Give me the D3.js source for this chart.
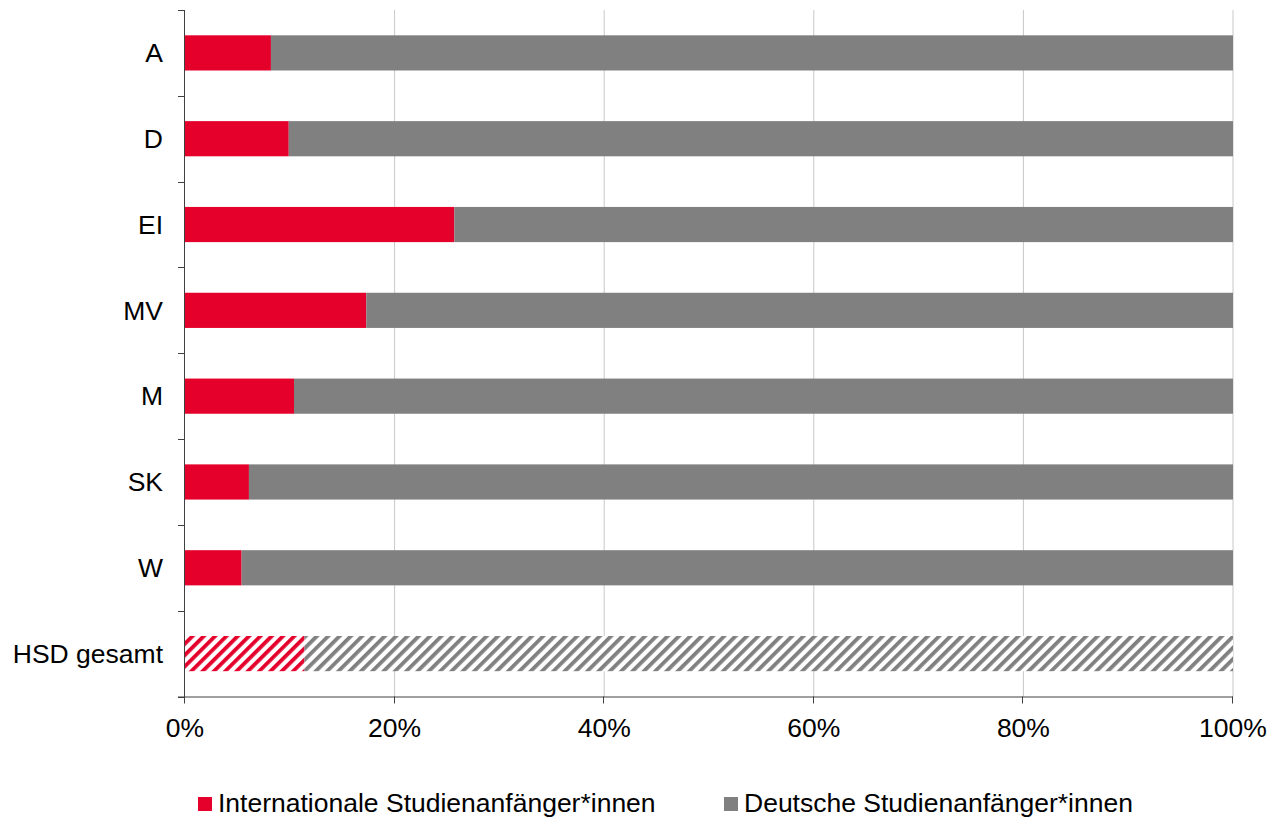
<!DOCTYPE html>
<html><head><meta charset="utf-8">
<script src="https://cdn.jsdelivr.net/npm/d3@7"></script>
<style>body{margin:0;background:#fff;} svg{display:block;font-family:"Liberation Sans",Arial,sans-serif;}</style>
</head><body>
<svg id="c" width="1283" height="821"></svg>
<script>
const categories = ["A","D","EI","MV","M","SK","W","HSD gesamt"];
const international = [8.2, 9.9, 25.7, 17.3, 10.4, 6.1, 5.4, 11.4];
const deutsche = international.map(v => 100 - v);
const xTicks = [0,20,40,60,80,100];
const seriesNames = ["Internationale Studienanfänger*innen","Deutsche Studienanfänger*innen"];
const colors = ["#e4002b","#808080"];

const svg = d3.select("#c");
const m = {left:185, right:1233, top:10, bottom:696.5};
const x = d3.scaleLinear().domain([0,100]).range([m.left, m.right]);
const y = d3.scaleBand().domain(categories).range([m.top, m.bottom]).paddingInner(0.59).paddingOuter(0.295);
const FS = 26.5;

const defs = svg.append("defs");
colors.forEach((c,i)=>{
  const p = defs.append("pattern").attr("id","hatch"+i).attr("patternUnits","userSpaceOnUse")
    .attr("width",8).attr("height",8).attr("patternTransform","rotate(45)");
  p.append("rect").attr("width",8).attr("height",8).attr("fill","#fff");
  p.append("rect").attr("x",0).attr("width",3.8).attr("height",8).attr("fill",c);
});

// gridlines
svg.append("g").selectAll("line").data(xTicks.filter(d=>d>0)).join("line")
  .attr("x1",d=>x(d)).attr("x2",d=>x(d)).attr("y1",m.top).attr("y2",m.bottom)
  .attr("stroke","#c8c8c8").attr("stroke-width",1);

const last = categories[categories.length-1];
// bars
categories.forEach((cat,i)=>{
  const hatched = cat===last;
  svg.append("rect").attr("x",x(0)).attr("y",y(cat)).attr("width",x(international[i])-x(0))
    .attr("height",y.bandwidth()).attr("fill",hatched?"url(#hatch0)":colors[0]);
  svg.append("rect").attr("x",x(international[i])).attr("y",y(cat)).attr("width",x(international[i]+deutsche[i])-x(international[i]))
    .attr("height",y.bandwidth()).attr("fill",hatched?"url(#hatch1)":colors[1]);
});

// y axis
const yg = svg.append("g");
yg.append("line").attr("x1",m.left-0.5).attr("x2",m.left-0.5).attr("y1",m.top).attr("y2",m.bottom+0.5).attr("stroke","#404040");
const bounds = d3.range(categories.length+1).map(i=>m.top + i*(m.bottom-m.top)/categories.length);
yg.selectAll(".yt").data(bounds).join("line").attr("x1",m.left-7).attr("x2",m.left-0.5)
  .attr("y1",d=>Math.round(d)+0.5).attr("y2",d=>Math.round(d)+0.5).attr("stroke","#404040");
yg.selectAll("text").data(categories).join("text")
  .attr("x",m.left-22).attr("y",d=>y(d)+y.bandwidth()/2).attr("dy","0.35em")
  .attr("text-anchor","end").attr("font-size",FS).attr("fill","#000").text(d=>d);

// x axis
const xg = svg.append("g");
xg.append("line").attr("x1",m.left-7).attr("x2",m.right).attr("y1",m.bottom+0.5).attr("y2",m.bottom+0.5).attr("stroke","#404040");
xg.selectAll(".xt").data(xTicks).join("line").attr("x1",d=>Math.round(x(d))-0.5).attr("x2",d=>Math.round(x(d))-0.5)
  .attr("y1",m.bottom).attr("y2",m.bottom+7).attr("stroke","#404040");
xg.selectAll("text").data(xTicks).join("text").attr("x",d=>x(d)).attr("y",737)
  .attr("text-anchor","middle").attr("font-size",FS).attr("fill","#000").text(d=>d+"%");

// legend
const legX = [198, 724];
const lg = svg.append("g");
seriesNames.forEach((n,i)=>{
  lg.append("rect").attr("x",legX[i]).attr("y",797).attr("width",14).attr("height",14).attr("fill",colors[i]);
  lg.append("text").attr("x",legX[i]+20).attr("y",812).attr("font-size",FS).attr("fill","#000").text(n);
});
</script>
</body></html>
